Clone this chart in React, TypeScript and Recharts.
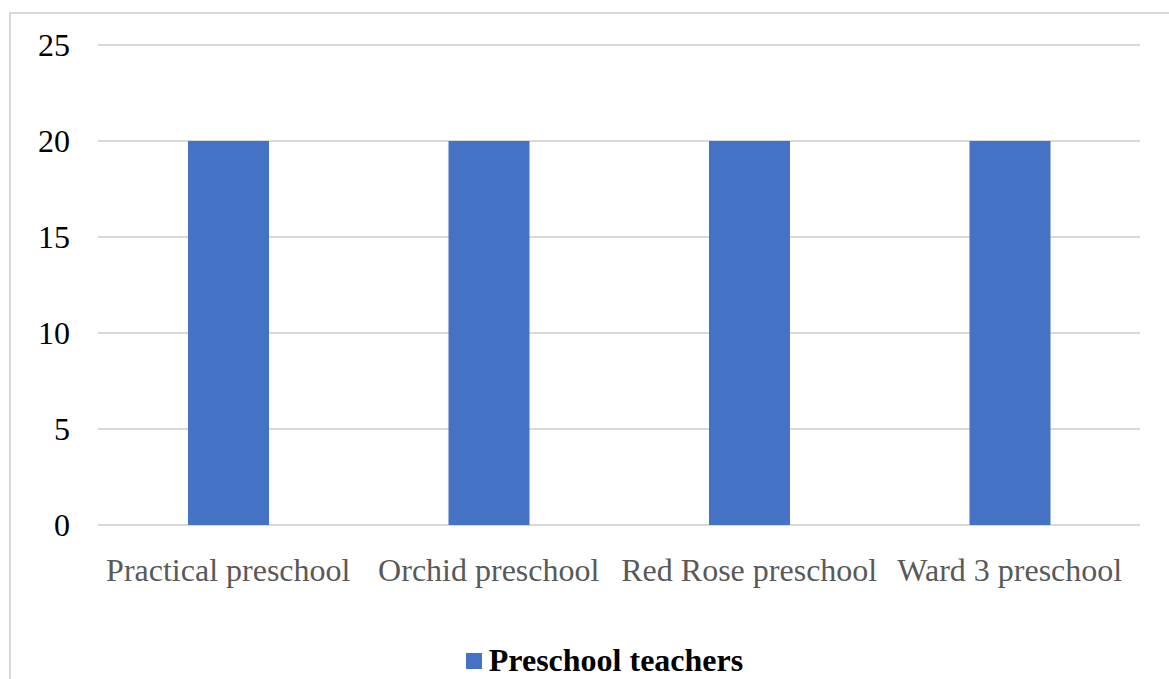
import React from 'react';
import { BarChart, Bar, XAxis, YAxis, CartesianGrid, Legend } from 'recharts';

const categories = ['Practical preschool', 'Orchid preschool', 'Red Rose preschool', 'Ward 3 preschool'];
const teachers = [20, 20, 20, 20];
const yTicks = [0, 5, 10, 15, 20, 25];
const seriesName = 'Preschool teachers';

const data = categories.map((name, i) => ({ name, teachers: teachers[i] }));

const FONT = '"Liberation Serif", "Times New Roman", serif';
const BLUE = '#4472C4';

const LegendBox = () => (
  <div
    style={{
      display: 'flex',
      justifyContent: 'center',
      alignItems: 'center',
      height: 38,
      fontFamily: FONT,
    }}
  >
    <span style={{ width: 16, height: 16, background: BLUE, marginRight: 7, marginTop: 2 }} />
    <span style={{ fontSize: 32, fontWeight: 'bold', color: '#000', lineHeight: '38px' }}>{seriesName}</span>
  </div>
);

const App = () => {
  return (
    <div style={{ position: 'absolute', left: 0, top: 0, width: 1169, height: 679, background: '#fff', overflow: 'hidden' }}>
      <div
        style={{
          position: 'absolute',
          left: 9,
          top: 12,
          width: 1180,
          height: 700,
          border: '2px solid #d9d9d9',
          boxSizing: 'border-box',
        }}
      />
      <div style={{ position: 'absolute', left: 0, top: 0 }}>
        <BarChart width={1169} height={679} data={data} margin={{ top: 45, right: 29, left: 0, bottom: 0 }}>
          <CartesianGrid vertical={false} stroke="#d9d9d9" strokeWidth={2} />
          <XAxis
            dataKey="name"
            axisLine={false}
            tickLine={false}
            tickSize={0}
            tickMargin={33}
            height={116}
            interval={0}
            tick={{ fill: '#595959', fontSize: 32, fontFamily: FONT }}
          />
          <YAxis
            domain={[0, 25]}
            ticks={yTicks}
            axisLine={false}
            tickLine={false}
            tickSize={0}
            tickMargin={28}
            width={98}
            tick={{ fill: '#000', fontSize: 32, fontFamily: FONT }}
          />
          <Legend
            verticalAlign="bottom"
            height={38}
            content={LegendBox}
            wrapperStyle={{ left: 40, width: 1129 }}
          />
          <Bar dataKey="teachers" name={seriesName} fill={BLUE} barSize={81} isAnimationActive={false} />
        </BarChart>
      </div>
    </div>
  );
};

export default App;
